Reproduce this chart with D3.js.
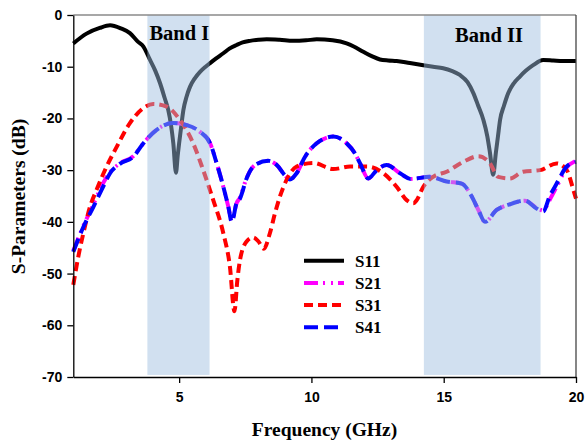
<!DOCTYPE html>
<html lang="en">
<head>
<meta charset="UTF-8">
<title>S-Parameters</title>
<script src="https://cdn.jsdelivr.net/npm/d3@7"></script>
<style>
    body { margin: 0; background: #fff; }
    .tick text { font-family: "Liberation Sans", Arial, sans-serif; font-weight: bold; font-size: 14px; fill: #000; }
    .serif { font-family: "Liberation Serif", "Times New Roman", serif; font-weight: bold; fill: #000; }
</style>
</head>
<body>
<script>
// data (GHz, dB)
const s11Freq = [1.0, 1.5, 2.0, 2.39, 2.8, 3.14, 3.45, 3.65, 3.9, 4.1, 4.28, 4.45, 4.59, 4.7, 4.78, 4.88, 4.95, 5.0, 5.08, 5.16, 5.28, 5.41, 5.6, 5.79, 6.0, 6.17, 6.4, 6.67, 6.9, 7.17, 7.4, 7.68, 8.0, 8.31, 8.8, 9.31, 9.8, 10.2, 10.8, 11.33, 11.6, 11.96, 12.3, 12.59, 12.9, 13.22, 13.72, 14.23, 14.6, 14.98, 15.3, 15.61, 15.9, 16.12, 16.3, 16.5, 16.65, 16.75, 16.87, 16.97, 17.05, 17.13, 17.28, 17.44, 17.65, 17.88, 18.1, 18.38, 18.76, 19.14, 19.5, 20.0];
const s11Vals = [-5.5, -3.6, -2.5, -2.0, -2.6, -3.5, -5.2, -6.1, -8.7, -10.8, -13.2, -16.0, -18.4, -21.5, -24.8, -30.5, -27.0, -24.8, -21.5, -18.4, -15.8, -13.9, -12.2, -11.0, -10.0, -9.3, -8.4, -7.4, -6.5, -5.8, -5.3, -5.0, -4.8, -4.7, -4.8, -5.0, -4.9, -4.7, -4.9, -5.5, -6.1, -7.1, -8.0, -8.6, -8.8, -8.9, -9.3, -9.7, -10.0, -10.3, -10.8, -11.6, -13.0, -15.1, -17.5, -20.3, -23.5, -26.7, -30.9, -26.7, -23.5, -20.3, -17.5, -15.1, -13.2, -11.9, -10.8, -9.7, -8.7, -8.8, -8.9, -8.9];

const s21Freq = [1.0, 1.38, 1.76, 2.13, 2.39, 2.76, 3.27, 3.65, 4.15, 4.78, 5.29, 5.79, 6.17, 6.42, 6.67, 6.86, 6.99, 7.17, 7.3, 7.55, 7.75, 7.93, 8.37, 8.69, 9.0, 9.19, 9.44, 9.76, 10.2, 10.83, 11.33, 11.65, 11.84, 12.15, 12.47, 12.84, 13.35, 13.75, 14.48, 15.11, 15.68, 16.06, 16.31, 16.56, 17.0, 17.5, 18.07, 18.51, 18.76, 19.0, 19.27, 19.65, 20.0];
const s21Vals = [-45.6, -40.8, -36.6, -32.5, -30.4, -28.7, -27.3, -24.8, -22.2, -20.9, -21.3, -22.6, -24.8, -28.7, -33.2, -37.1, -39.8, -36.4, -35.3, -31.5, -29.6, -28.8, -28.2, -29.0, -31.0, -31.8, -30.6, -27.4, -24.8, -23.5, -24.8, -26.8, -28.7, -31.6, -30.0, -29.0, -30.6, -31.7, -31.3, -32.2, -32.6, -35.1, -37.7, -40.0, -37.7, -36.6, -35.9, -37.3, -37.8, -35.8, -33.2, -29.5, -28.2];

const s31Freq = [1.0, 1.19, 1.38, 1.63, 1.88, 2.26, 2.64, 3.14, 3.65, 4.02, 4.53, 5.03, 5.53, 5.91, 6.29, 6.67, 6.92, 7.09, 7.2, 7.3, 7.55, 7.8, 8.0, 8.2, 8.43, 8.62, 8.81, 9.06, 9.44, 10.07, 10.83, 11.46, 12.09, 12.72, 13.22, 13.6, 13.85, 13.98, 14.23, 14.6, 15.11, 15.74, 16.31, 16.75, 17.06, 17.5, 18.0, 18.64, 19.27, 19.65, 19.9, 20.0];
const s31Vals = [-52.2, -46.7, -42.2, -37.1, -33.8, -29.3, -25.5, -20.9, -18.0, -17.2, -17.7, -20.3, -24.8, -30.0, -35.8, -42.2, -48.7, -57.3, -51.3, -47.4, -43.8, -43.0, -43.8, -45.2, -42.2, -38.4, -35.1, -31.9, -29.3, -28.6, -29.8, -29.3, -29.3, -30.6, -33.2, -35.8, -36.4, -35.8, -33.2, -31.3, -30.3, -28.4, -27.3, -28.7, -31.3, -31.6, -30.3, -30.0, -28.7, -30.0, -33.8, -35.5];

const s41Freq = [1.0, 1.38, 1.76, 2.13, 2.39, 2.76, 3.27, 3.65, 4.15, 4.78, 5.29, 5.79, 6.17, 6.42, 6.67, 6.86, 6.99, 7.17, 7.3, 7.55, 7.75, 7.93, 8.37, 8.69, 9.0, 9.19, 9.44, 9.76, 10.2, 10.83, 11.33, 11.65, 11.84, 12.15, 12.47, 12.84, 13.35, 13.75, 14.48, 15.11, 15.68, 16.06, 16.31, 16.56, 17.0, 17.5, 18.07, 18.51, 18.76, 19.0, 19.27, 19.65, 20.0];
const s41Vals = [-45.8, -41.0, -37.1, -33.2, -30.6, -28.8, -27.4, -24.8, -22.2, -20.9, -21.3, -22.6, -24.8, -28.7, -33.2, -37.1, -40.0, -36.4, -35.5, -31.6, -29.6, -28.8, -28.2, -29.0, -31.0, -31.8, -30.6, -27.4, -24.8, -23.5, -24.8, -26.8, -28.7, -31.6, -30.0, -29.0, -30.6, -31.7, -31.3, -32.2, -32.6, -35.1, -37.7, -40.0, -37.7, -36.6, -35.9, -37.4, -38.0, -35.1, -32.6, -29.3, -28.4];

const seriesNames = ["S11", "S21", "S31", "S41"];
const bandNames = ["Band I", "Band II"];
const bandStart = [3.8, 14.25];
const bandEnd = [6.15, 18.66];
const bandLow = -69.6;
const xTicks = [5, 10, 15, 20];
const yTicks = [0, -10, -20, -30, -40, -50, -60, -70];

const width = 585, height = 441;
const marginLeft = 73.3, marginRight = 9, marginTop = 15, marginBottom = 64;

const svg = d3.select("body").append("svg")
    .attr("width", width)
    .attr("height", height);

const x = d3.scaleLinear().domain([1, 20]).range([marginLeft, width - marginRight]);
const y = d3.scaleLinear().domain([-70, 0]).range([height - marginBottom, marginTop]);

const styles = {
    S11: { color: "#000000", dash: null },
    S21: { color: "#ff00ff", dash: "14,5,2,6,2,5" },
    S31: { color: "#ff0000", dash: "9,5" },
    S41: { color: "#0000ff", dash: "14,6" }
};

const series = [
    { name: "S11", f: s11Freq, v: s11Vals },
    { name: "S21", f: s21Freq, v: s21Vals },
    { name: "S31", f: s31Freq, v: s31Vals },
    { name: "S41", f: s41Freq, v: s41Vals }
];

const line = d3.line()
    .x(d => x(d[0]))
    .y(d => y(d[1]))
    .curve(d3.curveMonotoneX);

const plot = svg.append("g");

series.forEach(s => {
    const pts = s.f.map((f, i) => [f, s.v[i]]);
    plot.append("path")
        .datum(pts)
        .attr("fill", "none")
        .attr("stroke", styles[s.name].color)
        .attr("stroke-width", 4)
        .attr("stroke-dasharray", styles[s.name].dash)
        .attr("d", line);
});

// shaded bands sit over the curves
bandNames.forEach((b, i) => {
    svg.append("rect")
        .attr("x", x(bandStart[i]))
        .attr("y", y(0))
        .attr("width", x(bandEnd[i]) - x(bandStart[i]))
        .attr("height", y(bandLow) - y(0))
        .attr("fill", "#9dbde0")
        .attr("fill-opacity", 0.47);
});

svg.append("text").attr("class", "serif")
    .attr("x", 179.3).attr("y", 39.5)
    .attr("text-anchor", "middle").attr("font-size", 20.5)
    .text(bandNames[0]);
svg.append("text").attr("class", "serif")
    .attr("x", 489).attr("y", 41.7)
    .attr("text-anchor", "middle").attr("font-size", 20.5)
    .text(bandNames[1]);

// frame
svg.append("line")
    .attr("x1", x(1)).attr("x2", x(20)).attr("y1", y(0)).attr("y2", y(0))
    .attr("stroke", "#8a8a8a").attr("stroke-width", 1.3);
svg.append("line")
    .attr("x1", x(20)).attr("x2", x(20)).attr("y1", y(0)).attr("y2", y(-70))
    .attr("stroke", "#444").attr("stroke-width", 1.3);

// plain hyphen for negatives, as in the original
const fmt = d => String(d);

const xAxis = svg.append("g")
    .attr("transform", `translate(0,${y(-70)})`)
    .call(d3.axisBottom(x).tickValues(xTicks).tickFormat(fmt).tickSize(6).tickSizeOuter(0).tickPadding(9));
const yAxis = svg.append("g")
    .attr("transform", `translate(${x(1)},0)`)
    .call(d3.axisLeft(y).tickValues(yTicks).tickFormat(fmt).tickSize(6).tickSizeOuter(0).tickPadding(5));

[xAxis, yAxis].forEach(a => {
    a.selectAll("path, line").attr("stroke", "#000").attr("stroke-width", 1.3);
    a.selectAll("text").attr("font-family", null).attr("font-size", null);
});

svg.append("text").attr("class", "serif")
    .attr("x", 324.5).attr("y", 436)
    .attr("text-anchor", "middle").attr("font-size", 19.5)
    .text("Frequency (GHz)");
svg.append("text").attr("class", "serif")
    .attr("transform", "translate(25,196.5) rotate(-90)")
    .attr("text-anchor", "middle").attr("font-size", 19.5)
    .text("S-Parameters (dB)");

// legend
const legend = svg.append("g");
seriesNames.forEach((n, i) => {
    const ly = 260.7 + i * 22.2;
    legend.append("line")
        .attr("x1", 304).attr("x2", 344).attr("y1", ly).attr("y2", ly)
        .attr("stroke", styles[n].color)
        .attr("stroke-width", 4)
        .attr("stroke-dasharray", styles[n].dash);
    legend.append("text").attr("class", "serif")
        .attr("x", 355).attr("y", ly + 6)
        .attr("font-size", 17)
        .text(n);
});
</script>
</body>
</html>
